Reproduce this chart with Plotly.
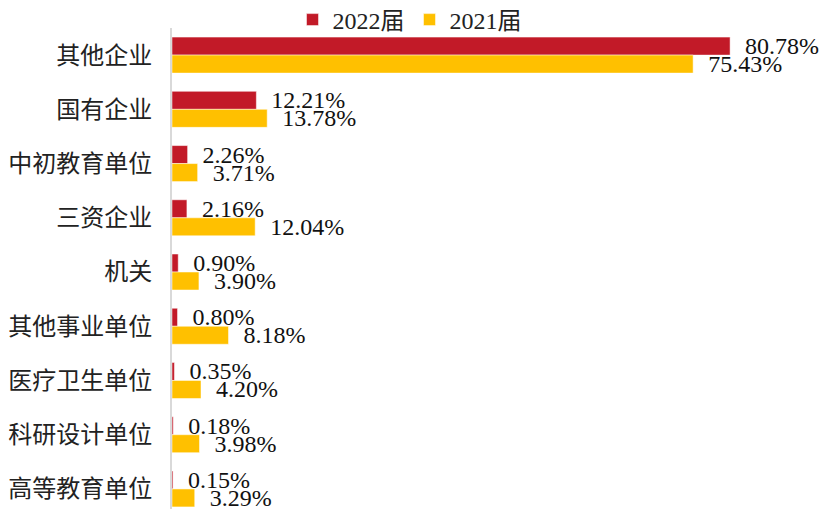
import plotly.graph_objects as go

categories = ["其他企业", "国有企业", "中初教育单位", "三资企业", "机关",
              "其他事业单位", "医疗卫生单位", "科研设计单位", "高等教育单位"]
values_2022 = [80.78, 12.21, 2.26, 2.16, 0.90, 0.80, 0.35, 0.18, 0.15]
values_2021 = [75.43, 13.78, 3.71, 12.04, 3.90, 8.18, 4.20, 3.98, 3.29]
series_names = ["2022届", "2021届"]
colors = ["#C21A28", "#FFC000"]

NB = "\u00a0\u00a0"
fig = go.Figure()
for name, vals, col in zip(series_names, [values_2022, values_2021], colors):
    fig.add_trace(go.Bar(
        y=categories, x=vals, name=name, orientation="h",
        marker=dict(color=col, line=dict(color="white", width=0.5)),
        text=[f"{NB}{v:.2f}%" for v in vals],
        textposition="outside",
        textfont=dict(family="Liberation Serif, Times New Roman, serif", size=24, color="#111111"),
        constraintext="none",
        cliponaxis=False,
    ))

fig.update_layout(
    width=819, height=509,
    margin=dict(l=172, r=10, t=28, b=0, autoexpand=False),
    barmode="group", bargap=0.336, bargroupgap=0,
    plot_bgcolor="white", paper_bgcolor="white",
    showlegend=True,
    legend=dict(orientation="h", x=0.5, xanchor="center", y=0.9607, yanchor="middle",
                xref="container", yref="container",
                font=dict(family="Liberation Serif, Noto Sans CJK SC, serif", size=24, color="#222222"),
                itemwidth=30, bgcolor="rgba(0,0,0,0)", traceorder="normal"),
    xaxis=dict(range=[0, 92.2], visible=False, showgrid=False, zeroline=False, automargin=False),
    yaxis=dict(categoryorder="array", categoryarray=categories, range=[8.37, -0.5],
               showline=True, linecolor="#D9D9D9", linewidth=2, showgrid=False,
               ticks="", ticklabelstandoff=13, automargin=False,
               tickfont=dict(family="Noto Sans CJK SC, sans-serif", size=24, color="#222222")),
)

fig.write_html("out.html", config={"displayModeBar": False},
               post_script="document.body.style.margin='0';")
